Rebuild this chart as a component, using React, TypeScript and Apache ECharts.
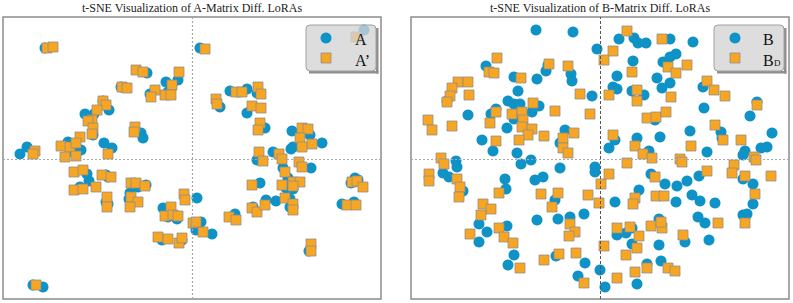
import React, { useEffect, useRef } from 'react';
import * as echarts from 'echarts';

const titles = [
  't-SNE Visualization of A-Matrix Diff. LoRAs',
  't-SNE Visualization of B-Matrix Diff. LoRAs',
];
const legendLeft = ['A', 'A\u2019'];
const legendRight = ['B', 'B', 'D'];

// t-SNE coordinates, A-matrix LoRAs (original)
const leftA: number[][] = [
  [-147, 111], [8, 111], [-45, 86], [-14, 79], [-26, 77], [-24, 67], [-42, 65], [-71, 72],
  [-89, 58], [-83, 49], [-98, 45], [-107, 45], [-99, 24], [-49, 21], [-51, 26], [-88, 16],
  [-80, 11], [-165, 12], [-172, 5], [-124, 17], [-111, 9], [-119, 7], [38, 68], [55, 70],
  [65, 66], [28, 52], [55, 46], [73, 31], [100, 28], [118, 24], [130, 16], [101, 12],
  [99, 10], [81, 7], [172, 129], [65, -1], [119, -9], [91, -9], [96, -19], [94, -29],
  [98, -40], [100, -23], [101, -30], [74, -41], [84, -42], [98, -48], [68, -24], [61, -48],
  [163, -19], [159, -24], [166, -21], [150, -45], [162, -43], [117, -92], [43, -55],
  [-29, -49], [-24, -58], [-15, -60], [5, -39], [9, -63], [4, -71], [20, -75], [-30, -81],
  [-10, -81], [-149, -128], [-159, -126], [-105, -15], [-103, -22], [-112, -28], [-86, -16],
  [-84, -18], [-86, -43], [-84, -45], [-54, -28], [-46, -26], [-62, -34], [-63, -40],
];

// t-SNE coordinates, A-matrix LoRAs (A')
const leftAPrime: number[][] = [
  [-145, 111], [-139, 112], [13, 110], [-56, 89], [-49, 87], [-13, 87], [-20, 74], [-27, 64],
  [-21, 64], [-37, 69], [-41, 62], [-70, 72], [-65, 71], [-89, 58], [-86, 54], [-95, 49],
  [-100, 39], [-104, 38], [-99, 31], [-100, 25], [-57, 32], [-58, 27], [-84, 5], [-157, 8],
  [-159, 5], [-131, 13], [-122, 12], [-112, 22], [-116, 16], [-116, 3], [-127, 2], [44, 67],
  [50, 67], [66, 72], [69, 65], [24, 60], [25, 55], [60, 53], [69, 51], [68, 36], [66, 29],
  [110, 31], [116, 30], [108, 21], [120, 15], [110, 12], [67, 7], [87, 5], [71, -2], [90, 0],
  [107, -3], [110, -8], [93, -13], [101, -23], [108, -23], [90, -26], [101, -27], [60, -26],
  [93, -39], [101, -45], [101, -51], [60, -49], [65, -53], [73, -46], [164, 122], [160, -23],
  [165, -22], [171, -28], [155, -46], [164, -46], [119, -85], [119, -92], [37, -58], [44, -61],
  [-118, -13], [-109, -11], [-96, -28], [-118, -31], [-109, -30], [-90, -16], [-81, -18],
  [-85, -38], [-85, -48], [-61, -24], [-56, -24], [-47, -27], [-61, -38], [-54, -43],
  [-62, -48], [-8, -35], [-7, -41], [-21, -48], [-27, -57], [-19, -56], [-14, -57], [1, -64],
  [4, -63], [11, -73], [-34, -78], [-24, -80], [-13, -84], [-10, -79], [-156, -126],
];

// t-SNE coordinates, B-matrix LoRAs (original)
const rightB: number[][] = [
  [-64, 129], [-27, 127], [-3, 110], [19, 120], [34, 121], [38, 116], [46, 116], [70, 120],
  [93, 117], [-114, 93], [-52, 94], [-54, 88], [-29, 85], [-28, 78], [-86, 82], [-63, 80],
  [-82, 68], [-8, 63], [33, 98], [17, 83], [13, 72], [17, 70], [32, 68], [44, 64], [57, 81],
  [63, 97], [70, 102], [76, 105], [70, 76], [62, 71], [103, 72], [104, 51], [157, 57],
  [150, 43], [172, 26], [161, 11], [167, 12], [145, 8], [143, 4], [107, 7], [121, 27],
  [122, 21], [90, 28], [60, 22], [-153, 58], [-132, 44], [-92, 58], [-86, 55], [-80, 55],
  [-104, 50], [-109, 45], [-68, 47], [-61, 53], [-86, 40], [-93, 31], [-118, 19], [-107, 8],
  [-83, 6], [-35, 29], [-40, 16], [15, 19], [9, 11], [37, 21], [49, 8], [55, 39],
  [-144, -2], [-143, -8], [-157, -14], [-151, -18], [-137, -32], [-79, -5], [-69, -1],
  [-40, -9], [-5, -8], [-5, -13], [-57, -18], [-65, -21], [-95, -20], [-94, -30], [51, -15],
  [39, -31], [15, -43], [-45, -41], [65, -25], [77, -27], [87, -22], [99, -17], [76, -43],
  [92, -36], [100, -42], [115, -44], [143, -20], [153, -25], [153, -45], [147, -55],
  [143, -56], [-63, -61], [-42, -60], [-30, -58], [-16, -55], [98, -58], [105, -64],
  [59, -60], [-121, -65], [-113, -73], [-121, -83], [-93, -67], [17, -76], [26, -74],
  [32, -69], [32, -85], [59, -86], [85, -83], [109, -81], [-86, -96], [-92, -106],
  [-44, -97], [-15, -104], [0, -111], [-22, -117], [5, -128], [37, -125], [47, -105],
  [61, -102],
];

// t-SNE coordinates, B-matrix LoRAs (B_D)
const rightBD: number[][] = [
  [27, 128], [62, 120], [13, 108], [4, 99], [-103, 101], [-111, 87], [-106, 86], [-51, 95],
  [-32, 93], [-79, 81], [32, 87], [68, 92], [76, 86], [87, 94], [-142, 77], [-132, 77],
  [-148, 71], [-131, 64], [-150, 63], [-153, 57], [-20, 65], [9, 64], [37, 69], [37, 58],
  [71, 62], [107, 78], [114, 69], [125, 63], [157, 54], [-172, 39], [-168, 29], [-148, 33],
  [-110, 36], [-104, 47], [-88, 45], [-78, 47], [-67, 56], [-45, 48], [-10, 45], [-77, 39],
  [-78, 32], [-68, 30], [-72, 24], [-81, 19], [-56, 23], [-26, 26], [-37, 21], [-37, 11],
  [-32, 6], [-104, 18], [47, 41], [56, 42], [66, 47], [13, 24], [35, 13], [43, 5], [52, 1],
  [115, 34], [123, 19], [91, 13], [141, 19], [154, 2], [-159, 1], [80, 0], [-156, -5],
  [-171, -15], [-171, -22], [-143, -20], [-140, -28], [-141, -38], [-117, -45], [-109, -50],
  [-119, -56], [-130, -75], [-101, -69], [-96, -78], [-87, -84], [-101, -34], [-59, -35],
  [-42, -34], [-48, -48], [-30, -65], [-25, -73], [-31, -77], [-12, -36], [-1, -44],
  [1, -25], [9, -15], [27, -4], [55, -18], [56, -37], [64, -37], [35, -39], [33, -45],
  [82, -3], [107, -12], [134, -6], [132, -14], [145, -17], [156, -1], [171, -17], [155, -35],
  [145, -64], [118, -64], [17, -69], [30, -68], [39, -77], [51, -67], [62, -69], [61, -63],
  [83, -76], [4, -87], [37, -89], [26, -96], [-41, -95], [-24, -94], [-56, -101], [-80, -109],
  [-16, -124], [17, -119], [35, -113], [47, -109], [68, -109], [75, -112],
];

const BLUE = '#0f93c6';
const ORANGE = '#f6a623';
const SERIF = '"Liberation Serif", "DejaVu Serif", serif';

export default function App() {
  const ref = useRef<HTMLDivElement>(null);
  useEffect(() => {
    const chart = echarts.init(ref.current!, undefined, { renderer: 'svg' });
    const grids = [
      { left: 3, top: 17, width: 378, height: 282 },
      { left: 411, top: 17, width: 378, height: 282 },
    ].map((g) => ({ ...g, show: true, borderColor: '#8c8c8c', borderWidth: 1.5, backgroundColor: '#fff' }));
    const axisBase = { type: 'value' as const, show: false, splitLine: { show: false } };
    const xAxes = [0, 1].map((i) => ({ ...axisBase, gridIndex: i, min: -189, max: 189 }));
    const yAxes = [0, 1].map((i) => ({ ...axisBase, gridIndex: i, min: -140, max: 142 }));

    const lightDot = { color: '#a8a8a8', width: 1.2, type: [2, 2] as any };
    const darkDash = { color: '#555', width: 1, type: [3, 2] as any };
    const lineSeries = (i: number, vStyle: any, hStyle: any) => ({
      type: 'scatter',
      xAxisIndex: i,
      yAxisIndex: i,
      data: [],
      z: 1,
      markLine: {
        silent: true,
        symbol: 'none',
        label: { show: false },
        data: [
          { xAxis: 0, lineStyle: vStyle },
          { yAxis: 0, lineStyle: hStyle },
        ],
      },
    });
    const circles = (i: number, data: number[][]) => ({
      type: 'scatter', xAxisIndex: i, yAxisIndex: i, data, z: 2,
      symbol: 'circle', symbolSize: 11,
      itemStyle: { color: BLUE, opacity: 1 },
    });
    const squares = (i: number, data: number[][]) => ({
      type: 'scatter', xAxisIndex: i, yAxisIndex: i, data, z: 3,
      symbol: 'rect', symbolSize: 10,
      itemStyle: { color: ORANGE, borderColor: 'rgba(140,140,140,0.75)', borderWidth: 1, opacity: 1 },
    });

    const legendBox = (x: number, y: number) => [
      { type: 'rect', z: 100, shape: { x: x + 70, y: y + 3, width: 2.5, height: 45.5 }, style: { fill: '#8e8e8e' } },
      { type: 'rect', z: 100, shape: { x: x + 3, y: y + 46, width: 69.5, height: 2.5 }, style: { fill: '#8e8e8e' } },
      { type: 'rect', z: 101, shape: { x, y, width: 70, height: 46, r: 4 }, style: { fill: 'rgba(212,212,212,0.78)', stroke: '#a0a0a0', lineWidth: 1 } },
    ];
    const legendMarks = (x: number) => [
      { type: 'circle', z: 102, shape: { cx: x, cy: 38, r: 5.5 }, style: { fill: BLUE } },
      { type: 'rect', z: 102, shape: { x: x - 5, y: 53, width: 10, height: 10 }, style: { fill: ORANGE, stroke: 'rgba(140,140,140,0.75)', lineWidth: 1 } },
    ];
    const txt = (x: number, y: number, t: string, size: number) => ({
      type: 'text', z: 103, x, y,
      style: { text: t, font: `${size}px ${SERIF}`, fill: '#111', textAlign: 'left', textVerticalAlign: 'middle' },
    });

    chart.setOption({
      animation: false,
      grid: grids,
      xAxis: xAxes,
      yAxis: yAxes,
      series: [
        lineSeries(0, lightDot, lightDot),
        lineSeries(1, darkDash, lightDot),
        circles(0, leftA),
        squares(0, leftAPrime),
        circles(1, rightB),
        squares(1, rightBD),
      ],
      graphic: [
        { type: 'text', x: 192, y: 8, style: { text: titles[0], font: `12px ${SERIF}`, fill: '#222', textAlign: 'center', textVerticalAlign: 'middle' } },
        { type: 'text', x: 600, y: 8, style: { text: titles[1], font: `12px ${SERIF}`, fill: '#222', textAlign: 'center', textVerticalAlign: 'middle' } },
        ...legendBox(306, 25),
        ...legendMarks(326),
        txt(355, 39, legendLeft[0], 16),
        txt(355, 60, legendLeft[1], 16),
        ...legendBox(714, 25),
        ...legendMarks(735),
        txt(763, 39, legendRight[0], 16),
        txt(763, 60, legendRight[1], 16),
        txt(774, 63, legendRight[2], 9),
      ],
    });
    return () => chart.dispose();
  }, []);
  return (
    <div
      ref={ref}
      style={{ position: 'fixed', left: 0, top: 0, width: 793, height: 303, background: '#fff' }}
    />
  );
}
